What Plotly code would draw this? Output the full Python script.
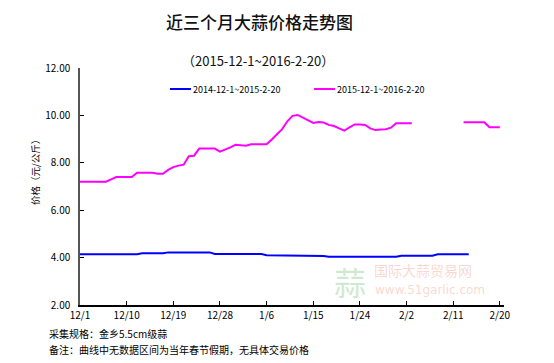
import plotly.graph_objects as go
import pandas as pd

dates = pd.date_range("2015-12-01", "2016-02-20", freq="D")

# 2015-12-1 ~ 2016-2-20 (magenta), None = holiday gap
price_2016 = (
    [7.20] * 6 + [7.30, 7.40, 7.40, 7.40, 7.40] + [7.58] * 4 + [7.54, 7.54]
    + [7.70, 7.82, 7.88, 7.92, 8.28, 8.30, 8.60, 8.60, 8.60, 8.60, 8.47, 8.55,
       8.65, 8.76, 8.74, 8.72, 8.78, 8.78, 8.78, 8.78, 8.98, 9.20, 9.42, 9.75,
       9.98, 10.02, 9.90, 9.80, 9.68, 9.72, 9.70, 9.60, 9.55, 9.45, 9.36, 9.50,
       9.62, 9.62, 9.60, 9.45, 9.38, 9.40, 9.42, 9.48, 9.67, 9.67, 9.67, 9.67]
    + [None] * 9
    + [9.71, 9.71, 9.71, 9.71, 9.71, 9.50, 9.50, 9.50]
)

# 2014-12-1 ~ 2015-2-20 (blue)
price_2015 = (
    [4.14] * 12 + [4.18] * 5 + [4.22] * 9 + [4.15] * 10 + [4.10] * 5
    + [4.07] * 7 + [4.04] * 14 + [4.08] * 7 + [4.14] * 7 + [None] * 6
)

tick_labels = ["12/1", "12/10", "12/19", "12/28", "1/6", "1/15", "1/24", "2/2", "2/11", "2/20"]
tick_vals = [dates[0] + pd.Timedelta(days=9 * i) for i in range(len(tick_labels))]
y_ticks = [2, 4, 6, 8, 10, 12]

series_names = ["2014-12-1~2015-2-20", "2015-12-1~2016-2-20"]
colors = ["#0000ff", "#ff00ff"]

cjk = "Noto Sans CJK SC"

fig = go.Figure()
fig.add_trace(go.Scatter(x=dates, y=price_2015, mode="lines", name=series_names[0],
                         line=dict(color=colors[0], width=2), connectgaps=False, showlegend=False))
fig.add_trace(go.Scatter(x=dates, y=price_2016, mode="lines", name=series_names[1],
                         line=dict(color=colors[1], width=2), connectgaps=False, showlegend=False))

W, H = 554, 363
L, R, T, B = 80, 50, 68, 58

def px(x):
    return (x - L) / (W - L - R)

def py(y):
    return 1 - (y - T) / (H - T - B)

fig.update_layout(
    width=W, height=H,
    margin=dict(l=L, r=R, t=T, b=B, pad=0),
    paper_bgcolor="white", plot_bgcolor="white",
    font=dict(family=cjk, size=9, color="#000000"),
    xaxis=dict(
        range=[dates[0], dates[0] + pd.Timedelta(days=81.8)],
        tickvals=tick_vals, ticktext=tick_labels,
        showgrid=False, zeroline=False,
        showline=True, linecolor="#000000", linewidth=1.5,
        ticks="inside", ticklen=4, tickcolor="#000000",
        tickfont=dict(size=10, family=cjk),
    ),
    yaxis=dict(
        range=[2, 12], tickvals=y_ticks,
        ticktext=[f"{v:.2f}" for v in y_ticks],
        showgrid=False, zeroline=False,
        showline=True, linecolor="#555555", linewidth=1.5,
        ticks="inside", ticklen=4, tickcolor="#000000",
        ticklabelstandoff=6,
        tickfont=dict(size=10, family=cjk),
    ),
)

def note(text, x, y, size, xanchor="center", **kw):
    return dict(text=text, x=px(x), y=py(y), xref="paper", yref="paper",
                xanchor=xanchor, yanchor="middle", showarrow=False,
                font=dict(size=size, family=kw.pop("family", cjk), color=kw.pop("color", "#000000"),
                          weight=kw.pop("weight", "normal")),
                **kw)

ann = []
ann.append(note("近三个月大蒜价格走势图", 259, 22, 17, color="#111111", weight=500))
ann.append(note("（2015-12-1~2016-2-20）", 258, 61, 13, color="#111111"))
ann.append(note("价格（元/公斤）", 35, 170, 9.5, textangle=-90))
ann.append(note("采集规格：金乡5.5cm级蒜", 47, 333, 10, xanchor="left"))
ann.append(note("备注：曲线中无数据区间为当年春节假期，无具体交易价格", 47, 349, 10, xanchor="left"))

# legend
shapes = []
leg_x = [170, 314]
for i in range(2):
    shapes.append(dict(type="line", xref="paper", yref="paper",
                       x0=px(leg_x[i]), x1=px(leg_x[i] + 21), y0=py(89), y1=py(89),
                       line=dict(color=colors[i], width=2)))
    ann.append(note(series_names[i], leg_x[i] + 21, 89, 9, xanchor="left"))

# watermark
ann.append(note("蒜", 350, 281, 32, color="rgba(120,190,120,0.35)"))
ann.append(note("国际大蒜贸易网", 372, 270, 14, xanchor="left", color="rgba(240,140,120,0.35)"))
ann.append(note("www.51garlic.com", 373, 290, 12, xanchor="left", family="DejaVu Sans",
                color="rgba(240,140,120,0.35)"))

fig.update_layout(annotations=ann, shapes=shapes)
fig.write_html("out.html", config={"displayModeBar": False},
               post_script="document.body.style.margin='0';")
